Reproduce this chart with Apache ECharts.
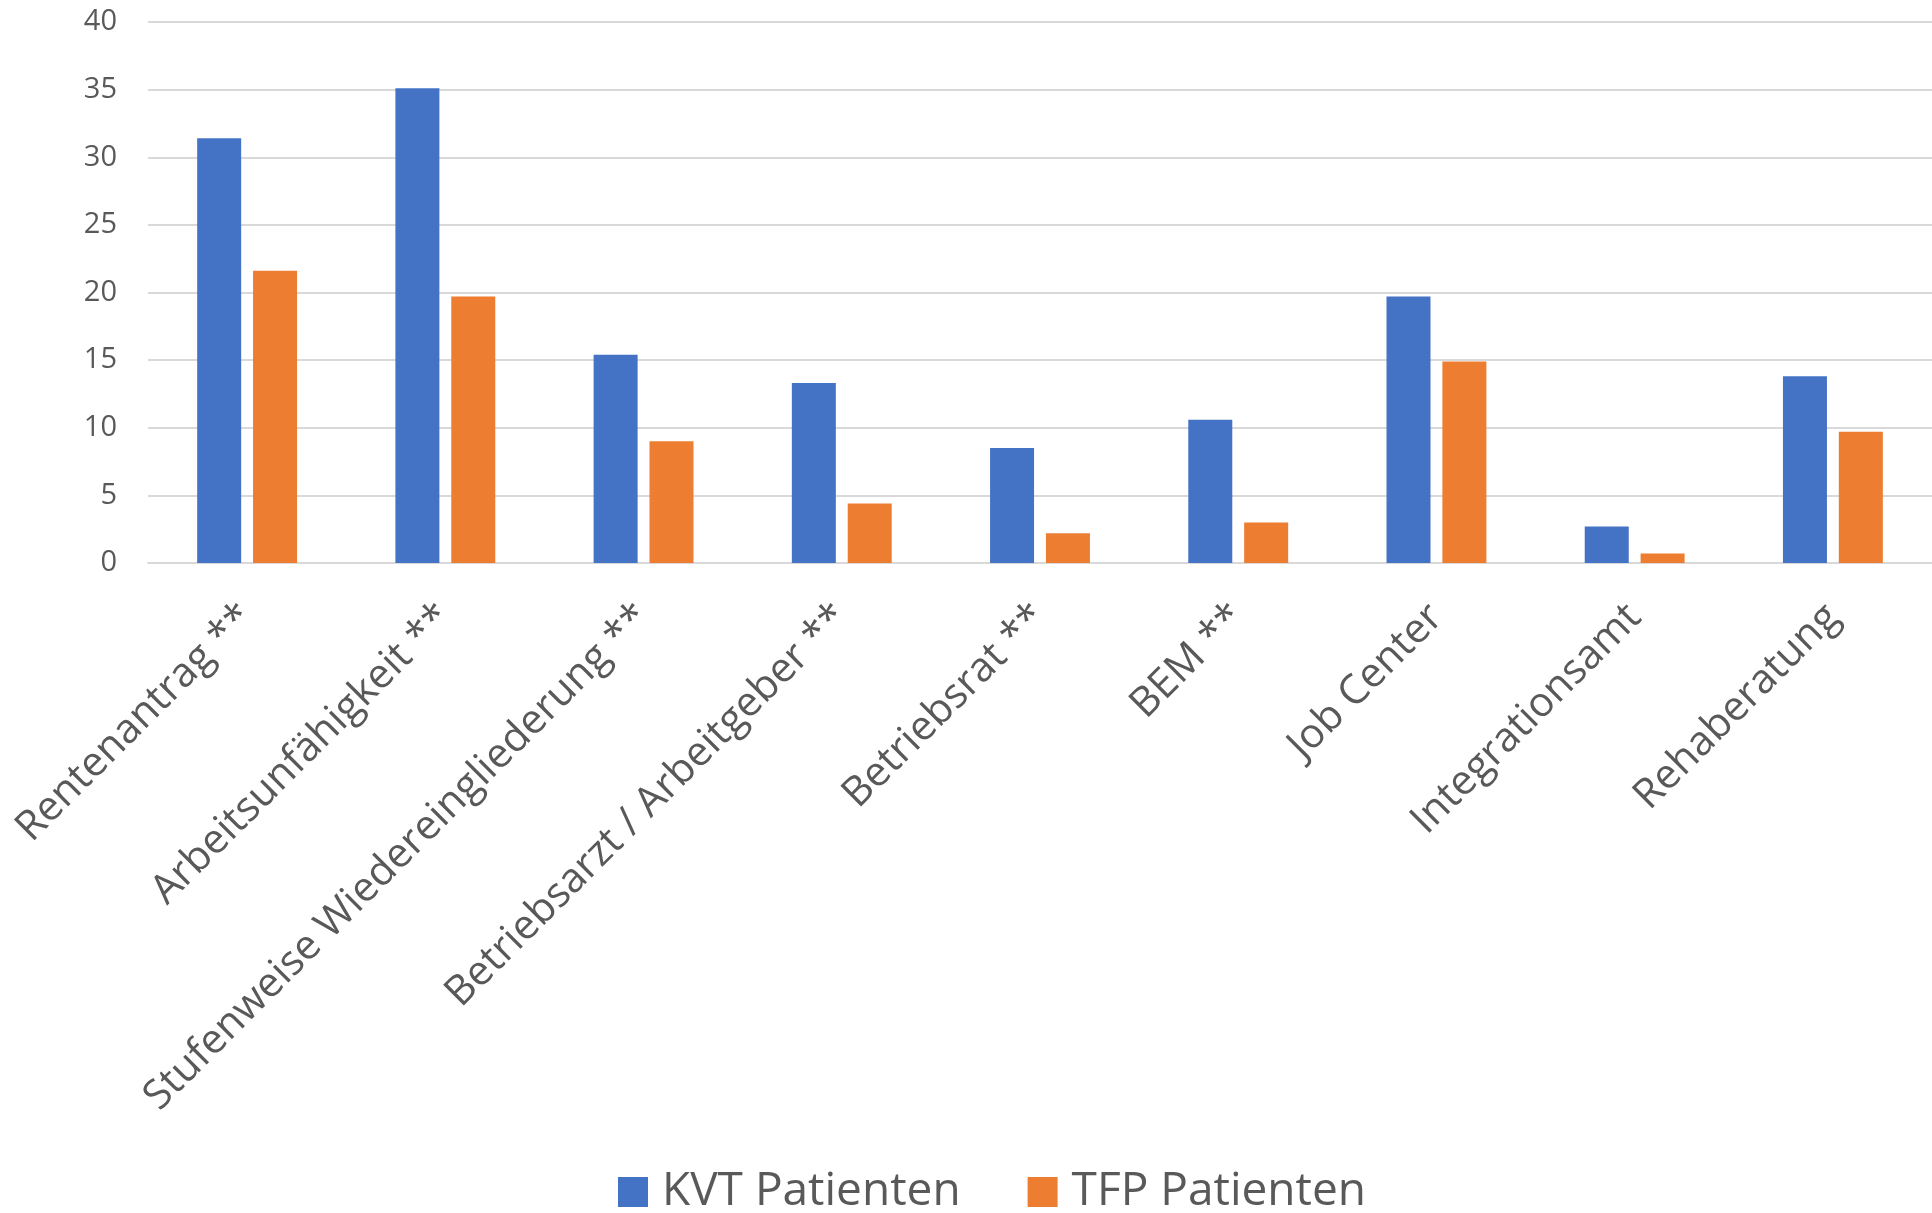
<!DOCTYPE html>
<html>
<head>
<meta charset="utf-8">
<script src="https://cdn.jsdelivr.net/npm/echarts@6/dist/echarts.min.js"></script>
<style>
  html, body { margin: 0; padding: 0; background: #fff; }
  #chart { width: 1932px; height: 1213px; }
</style>
</head>
<body>
<div id="chart"></div>
<script>
const categories = [
  'Rentenantrag **',
  'Arbeitsunfähigkeit **',
  'Stufenweise Wiedereingliederung **',
  'Betriebsarzt / Arbeitgeber **',
  'Betriebsrat **',
  'BEM **',
  'Job Center',
  'Integrationsamt',
  'Rehaberatung'
]
const kvtValues = [31.4, 35.1, 15.4, 13.3, 8.5, 10.6, 19.7, 2.7, 13.8]
const tfpValues = [21.6, 19.7, 9.0, 4.4, 2.2, 3.0, 14.9, 0.7, 9.7]
const seriesNames = ['KVT Patienten', 'TFP Patienten']

const textColor = '#595959'
const chart = echarts.init(document.getElementById('chart'))

const option = {
  animation: false,
  textStyle: { fontFamily: 'Open Sans' },
  legend: {
    data: seriesNames,
    left: 613,
    top: 1164,
    itemWidth: 30,
    itemHeight: 30,
    itemGap: 67,
    icon: 'rect',
    textStyle: { fontSize: 46, color: textColor, fontFamily: 'Open Sans', padding: [0, 0, 0, 9] }
  },
  grid: {
    left: 148,
    width: 1796,
    top: 22,
    bottom: 650,
    containLabel: false
  },
  xAxis: {
    type: 'category',
    data: categories,
    axisLine: { show: true, lineStyle: { color: '#D9D9D9', width: 2 } },
    axisTick: { show: false },
    axisLabel: {
      rotate: 45,
      interval: 0,
      margin: 48,
      fontSize: 41,
      color: textColor,
      fontFamily: 'Open Sans'
    }
  },
  yAxis: {
    type: 'value',
    min: 0,
    max: 40,
    interval: 5,
    axisLine: { show: false },
    axisTick: { show: false },
    axisLabel: { fontSize: 29, color: textColor, margin: 31, fontFamily: 'Open Sans' },
    splitLine: { lineStyle: { color: '#D9D9D9', width: 2 } }
  },
  series: [
    {
      name: seriesNames[0],
      type: 'bar',
      data: kvtValues,
      barWidth: 44,
      barGap: '27%',
      itemStyle: { color: '#4472C4' }
    },
    {
      name: seriesNames[1],
      type: 'bar',
      data: tfpValues,
      barWidth: 44,
      itemStyle: { color: '#ED7D31' }
    }
  ]
}

chart.setOption(option)
window.addEventListener('resize', () => chart.resize())
</script>
</body>
</html>
